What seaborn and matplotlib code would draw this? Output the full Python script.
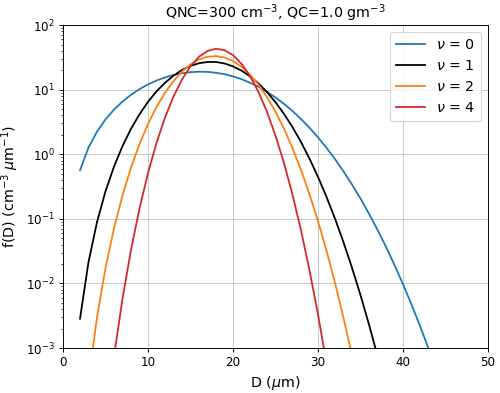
import numpy as np
import pandas as pd
import matplotlib
matplotlib.use("Agg")
import matplotlib.pyplot as plt
import seaborn as sns

# Diameter (um) and distribution values f(D) (cm^-3 um^-1)
D_um = list(range(2, 46))
nu0 = [0.565, 1.27, 2.24, 3.47, 4.92, 6.56, 8.35, 10.2, 12.1, 13.9, 15.5, 16.9, 18, 18.7, 19, 18.9,
       18.3, 17.4, 16.1, 14.6, 12.8, 11.1, 9.28, 7.59, 6.04, 4.68, 3.52, 2.58, 1.83, 1.26, 0.842,
       0.544, 0.34, 0.206, 0.12, 0.0678, 0.0369, 0.0193, 0.00974, 0.00472, 0.0022, 0.000985,
       0.000423, 0.000174]
nu1 = [0.00284, 0.0214, 0.0892, 0.267, 0.645, 1.34, 2.48, 4.17, 6.49, 9.42, 12.8, 16.5, 20.2, 23.4,
       25.7, 26.9, 26.9, 25.5, 23, 19.8, 16.1, 12.5, 9.19, 6.4, 4.22, 2.63, 1.55, 0.857, 0.447,
       0.219, 0.101, 0.0434, 0.0175, 0.00659, 0.00231, 0.000756, 0.000229, 6.46e-05, 1.68e-05,
       4.06e-06, 9.04e-07, 1.85e-07, 3.49e-08, 6.04e-09]
nu2 = [1.2e-05, 0.000305, 0.00299, 0.0173, 0.0714, 0.231, 0.621, 1.44, 2.94, 5.39, 8.97, 13.6, 19.1,
       24.6, 29.4, 32.4, 33.2, 31.6, 27.8, 22.7, 17.1, 11.9, 7.68, 4.56, 2.49, 1.25, 0.572, 0.24,
       0.0921, 0.0321, 0.0102, 0.00292, 0.00076, 0.000178, 3.76e-05, 7.11e-06, 1.21e-06, 1.82e-07,
       2.46e-08, 2.95e-09, 3.13e-10, 2.94e-11, 2.44e-12, 1.77e-13]
nu4 = [1.82e-10, 5.25e-08, 2.86e-06, 6.2e-05, 0.000741, 0.00581, 0.033, 0.145, 0.511, 1.5, 3.7, 7.86,
       14.4, 23.1, 32.4, 39.8, 43.1, 41, 34.3, 25.2, 16.3, 9.19, 4.54, 1.95, 0.731, 0.237, 0.0663,
       0.016, 0.00331, 0.000584, 8.8e-05, 1.12e-05, 1.21e-06, 1.1e-07, 8.38e-09, 5.33e-10, 2.81e-11,
       1.23e-12, 4.44e-14, 1.32e-15, 3.19e-17, 6.28e-19, 1e-20, 1.29e-22]
series_labels = [r"$\nu$ = 0", r"$\nu$ = 1", r"$\nu$ = 2", r"$\nu$ = 4"]
colors = ["#1f77b4", "black", "#ff7f0e", "#d62728"]

frames = []
for lab, vals in zip(series_labels, [nu0, nu1, nu2, nu4]):
    frames.append(pd.DataFrame({"D": D_um, "f": vals, "series": lab}))
df = pd.concat(frames, ignore_index=True)

DPI = 85.7
fig, ax = plt.subplots(figsize=(500 / DPI, 393 / DPI), dpi=DPI)
fig.subplots_adjust(left=0.126, right=0.976, top=0.936, bottom=0.1145)

sns.lineplot(data=df, x="D", y="f", hue="series", palette=colors, ax=ax,
             linewidth=1.5, sort=True, estimator=None)

ax.set_yscale("log")
ax.set_xlim(0, 50)
ax.set_ylim(1e-3, 1e2)
ax.grid(True, which="major", color="#b0b0b0", linewidth=0.8, alpha=0.7)
ax.set_axisbelow(True)
ax.tick_params(labelsize=10)
ax.set_xlabel(r"D ($\mu$m)", fontsize=12)
ax.set_ylabel(r"f(D) (cm$^{-3}$ $\mu$m$^{-1}$)", fontsize=12)
ax.set_title(r"QNC=300 cm$^{-3}$, QC=1.0 gm$^{-3}$", fontsize=12)
ax.legend(title=None, loc="upper right", fontsize=12)

fig.savefig("out.png", dpi=DPI)
